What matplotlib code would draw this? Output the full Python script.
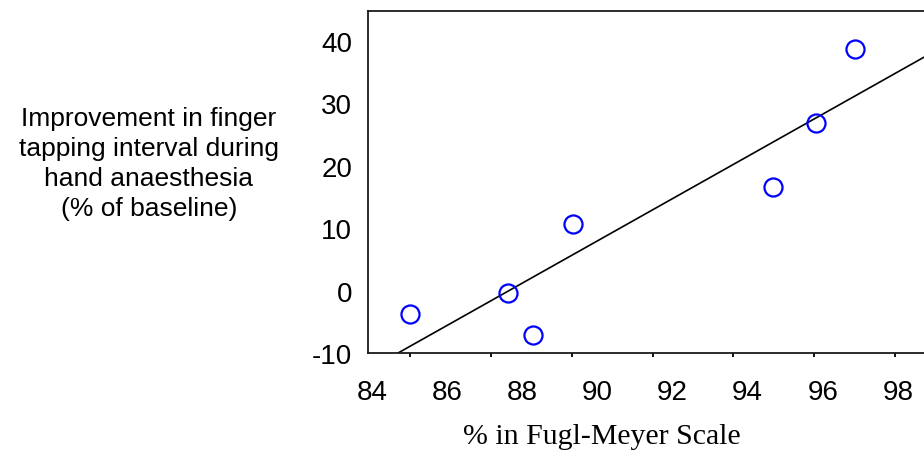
import numpy as np
import matplotlib.pyplot as plt

# Fugl-Meyer score (%) vs improvement in tapping interval (% of baseline)
fugl_meyer = [85.0, 87.63, 88.28, 89.35, 94.68, 95.81, 96.86]
improvement = [-3.7, -0.4, -7.1, 10.6, 16.5, 26.9, 38.6]

x_ticks = [84, 86, 88, 90, 92, 94, 96, 98]
y_ticks = [-10, 0, 10, 20, 30, 40]

W, H = 924, 464
fig = plt.figure(figsize=(W / 100, H / 100), dpi=100)
ax = fig.add_axes([368 / W, 110 / H, 572 / W, 342 / H])

ax.set_xlim(83.894, 99.12)
ax.set_ylim(-9.5, 44.76)

# least-squares fit through the points
slope, icpt = np.polyfit(fugl_meyer, improvement, 1)
xx = np.array(ax.get_xlim())
ax.plot(xx, slope * xx + icpt, color='black', lw=1.2, zorder=2)

ax.plot(fugl_meyer, improvement, 'o', ms=13, mfc='none', mec='#0000ff',
        mew=1.6, zorder=3)

sans = 'Liberation Sans'
ax.set_xticks(x_ticks)
ax.set_xticklabels([str(v) for v in x_ticks], fontsize=20, family=sans)
ax.set_yticks(y_ticks)
ax.set_yticklabels([str(v) for v in y_ticks], fontsize=20, family=sans)
ax.tick_params(axis='x', which='major', length=0, pad=18.5)
ax.tick_params(axis='y', which='major', length=0, pad=11.5)

# small tick marks along the bottom axis
ax.set_xticks(85.01 + 2.153 * np.arange(7), minor=True)
ax.tick_params(axis='x', which='minor', length=3, width=1.3, direction='out')

for side in ['left', 'bottom', 'top', 'right']:
    ax.spines[side].set_linewidth(1.3)
    ax.spines[side].set_color('#1a1a1a')

fig.text(602 / W, 1 - 437 / H, '% in Fugl-Meyer Scale', family='Liberation Serif',
         fontsize=21.5, ha='center', va='center')
fig.text(149 / W, 1 - 164 / H,
         'Improvement in finger\ntapping interval during\nhand anaesthesia\n(% of baseline)',
         family=sans, fontsize=19, ha='center', va='center', linespacing=1.32)

fig.savefig('out.png', dpi=100)
